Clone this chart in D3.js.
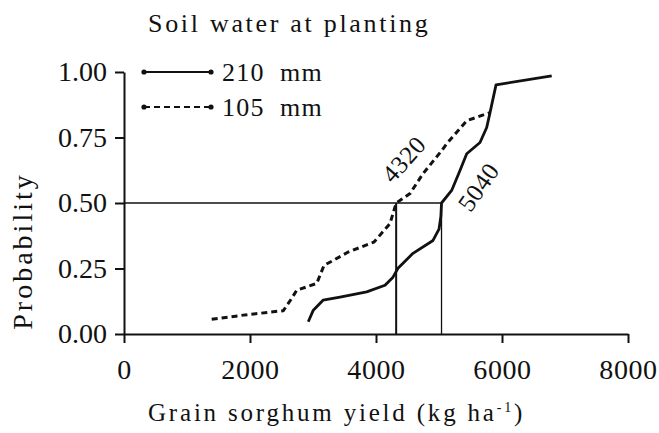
<!DOCTYPE html>
<html>
<head>
<meta charset="utf-8">
<script src="https://cdn.jsdelivr.net/npm/d3@7"></script>
<style>
  html, body { margin: 0; padding: 0; background: #fff; }
  svg { display: block; }
  text { font-family: "Liberation Serif", "Times New Roman", serif; fill: #111; }
</style>
</head>
<body>
<div id="chart"></div>
<script>
// Cumulative probability of grain sorghum yield for two levels of soil water at planting
const yield210 = [2925, 3005, 3159, 3429, 3852, 4143, 4270, 4349, 4587, 4905, 5000, 5030, 5040, 5201, 5333, 5440, 5651, 5757, 5810, 5905, 6789];
const prob210  = [0.047, 0.091, 0.129, 0.141, 0.161, 0.186, 0.217, 0.251, 0.308, 0.357, 0.40, 0.45, 0.50, 0.548, 0.624, 0.688, 0.731, 0.788, 0.845, 0.951, 0.985];

const yield105 = [1392, 1894, 2529, 2662, 2741, 3059, 3175, 3322, 3560, 3968, 4222, 4270, 4320, 4540, 4746, 5043, 5122, 5440, 5810];
const prob105  = [0.056, 0.072, 0.089, 0.136, 0.167, 0.193, 0.262, 0.281, 0.313, 0.351, 0.421, 0.46, 0.50, 0.536, 0.612, 0.70, 0.726, 0.814, 0.845];

// Median yields marked on the chart
const median105 = 4320;
const median210 = 5040;
const medianProb = 0.5;

const xTicks = [0, 2000, 4000, 6000, 8000];
const yTicks = [0, 0.25, 0.5, 0.75, 1.0];
const legendLabels = ["210  mm", "105  mm"];

const W = 659, H = 433;
const svg = d3.select("#chart").append("svg").attr("width", W).attr("height", H);

const x = d3.scaleLinear().domain([0, 8000]).range([124, 628]);
const y = d3.scaleLinear().domain([0, 1]).range([334, 72]);

// Axes
const xAxis = d3.axisBottom(x).tickValues(xTicks).tickFormat(d3.format("d"))
  .tickSize(9).tickSizeOuter(0).tickPadding(16);
const yAxis = d3.axisLeft(y).tickValues(yTicks).tickFormat(d3.format(".2f"))
  .tickSize(9).tickSizeOuter(0).tickPadding(8);

const gx = svg.append("g").attr("transform", `translate(0,${y(0)})`).call(xAxis);
const gy = svg.append("g").attr("transform", `translate(${x(0)},0)`).call(yAxis);
[gx, gy].forEach(g => {
  g.select(".domain").attr("stroke", "#111").attr("stroke-width", 2);
  g.selectAll(".tick line").attr("stroke", "#111").attr("stroke-width", 2);
  g.selectAll(".tick text").attr("font-size", 28).attr("fill", "#111");
});
gx.selectAll(".tick text").attr("letter-spacing", 0.6);

// Reference lines at the median
svg.append("line")
  .attr("x1", x(0)).attr("x2", x(median210))
  .attr("y1", y(medianProb)).attr("y2", y(medianProb))
  .attr("stroke", "#111").attr("stroke-width", 1.5);
svg.append("line")
  .attr("x1", x(median105)).attr("x2", x(median105))
  .attr("y1", y(medianProb)).attr("y2", y(0))
  .attr("stroke", "#111").attr("stroke-width", 2);
svg.append("line")
  .attr("x1", x(median210)).attr("x2", x(median210))
  .attr("y1", y(medianProb)).attr("y2", y(0))
  .attr("stroke", "#111").attr("stroke-width", 1.3);

// Curves
const line = d3.line().x(d => x(d[0])).y(d => y(d[1]));
const pts210 = d3.zip(yield210, prob210);
const pts105 = d3.zip(yield105, prob105);

svg.append("path").datum(pts105).attr("d", line)
  .attr("fill", "none").attr("stroke", "#111").attr("stroke-width", 3)
  .attr("stroke-dasharray", "6,4").attr("stroke-linejoin", "round");
svg.append("path").datum(pts210).attr("d", line)
  .attr("fill", "none").attr("stroke", "#111").attr("stroke-width", 2.8)
  .attr("stroke-linejoin", "round");

// Median labels along the curves
svg.append("text").attr("transform", `translate(${x(median105) + 14},${y(medianProb) - 38}) rotate(-48)`)
  .attr("text-anchor", "middle").attr("font-size", 25).attr("letter-spacing", 0.5)
  .text(String(median105));
svg.append("text").attr("transform", `translate(${x(median210) + 44},${y(medianProb) - 11}) rotate(-55)`)
  .attr("text-anchor", "middle").attr("font-size", 25).attr("letter-spacing", 0.5)
  .text(String(median210));

// Legend
svg.append("text").attr("x", 148).attr("y", 32).attr("font-size", 26)
  .attr("letter-spacing", 2.7).text("Soil water at planting");

const legendY = [72, 107];
const dashes = [null, "6,4"];
legendLabels.forEach((lab, i) => {
  const g = svg.append("g");
  g.append("line").attr("x1", 144).attr("x2", 211).attr("y1", legendY[i]).attr("y2", legendY[i])
    .attr("stroke", "#111").attr("stroke-width", 2.2)
    .attr("stroke-dasharray", dashes[i]);
  [144, 211].forEach(cx => g.append("circle").attr("cx", cx).attr("cy", legendY[i]).attr("r", 2.6).attr("fill", "#111"));
  g.append("text").attr("x", 222).attr("y", legendY[i] + 9).attr("font-size", 26)
    .attr("letter-spacing", 1.2)
    .style("white-space", "pre").text(lab);
});

// Axis titles
svg.append("text").attr("x", 148).attr("y", 421).attr("font-size", 25)
  .attr("letter-spacing", 2.8)
  .html('Grain sorghum yield (kg ha<tspan dy="-9" font-size="14">-1</tspan><tspan dy="9">)</tspan>');

svg.append("text").attr("transform", "translate(32,251) rotate(-90)")
  .attr("text-anchor", "middle").attr("font-size", 28).attr("letter-spacing", 3)
  .text("Probability");
</script>
</body>
</html>
